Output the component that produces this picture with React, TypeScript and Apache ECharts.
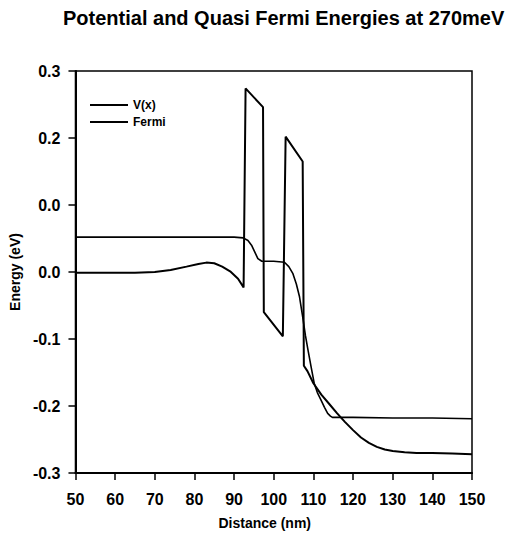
import React, { useEffect, useRef } from "react";
import * as echarts from "echarts";

const titleText = "Potential and Quasi Fermi Energies at 270meV";
const xAxisName = "Distance (nm)";
const yAxisName = "Energy (eV)";
const seriesNames = ["V(x)", "Fermi"];

// y tick labels as printed in the reference (tick values -0.3 .. 0.3)
const yTickValues = [-0.3, -0.2, -0.1, 0.0, 0.1, 0.2, 0.3];
const yTickLabels = ["-0.3", "-0.2", "-0.1", "0.0", "0.0", "0.2", "0.3"];

// Potential V(x)
const vX = [50, 55, 60, 65, 70, 74, 78, 81, 83, 85, 87, 89, 91, 92.4, 92.9, 97.3, 97.5, 102.3, 103.0, 107.3, 107.6, 108.5, 110, 112, 114, 116, 118, 120, 122, 124, 126, 128, 130, 133, 136, 140, 145, 150];
const vY = [-0.001, -0.001, -0.001, -0.001, 0.0, 0.003, 0.008, 0.012, 0.014, 0.013, 0.008, 0.001, -0.010, -0.023, 0.274, 0.246, -0.060, -0.096, 0.202, 0.165, -0.140, -0.148, -0.166, -0.183, -0.197, -0.211, -0.224, -0.236, -0.247, -0.255, -0.261, -0.265, -0.267, -0.269, -0.270, -0.270, -0.271, -0.272];

// Quasi Fermi energy
const fX = [50, 60, 70, 80, 90, 92.3, 93.5, 94.4, 95.2, 96, 97, 100, 102.7, 103.8, 104.8, 105.7, 106.5, 107.3, 108.0, 108.6, 109.4, 110.2, 111.0, 111.9, 112.8, 113.6, 114.3, 114.8, 120, 130, 140, 150];
const fY = [0.052, 0.052, 0.052, 0.052, 0.052, 0.051, 0.047, 0.040, 0.030, 0.020, 0.016, 0.016, 0.0145, 0.008, -0.002, -0.018, -0.037, -0.067, -0.095, -0.115, -0.141, -0.166, -0.180, -0.191, -0.202, -0.211, -0.215, -0.217, -0.217, -0.218, -0.218, -0.219];

const FONT = "'Liberation Sans', Arial, sans-serif";

export default function App() {
  const ref = useRef<HTMLDivElement>(null);
  useEffect(() => {
    if (!ref.current) return;
    const chart = echarts.init(ref.current, null, { renderer: "svg" });
    const vData = vX.map((x, i) => [x, vY[i]]);
    const fData = fX.map((x, i) => [x, fY[i]]);
    chart.setOption({
      animation: false,
      backgroundColor: "#ffffff",
      title: {
        text: titleText,
        left: 58,
        top: 3,
        textStyle: { fontFamily: FONT, fontWeight: "bold", fontSize: 20, color: "#000" },
      },
      grid: {
        left: 73,
        right: 34,
        top: 71,
        bottom: 66,
        show: true,
        borderColor: "#000",
        borderWidth: 1.5,
        backgroundColor: "transparent",
      },
      legend: {
        data: seriesNames,
        orient: "vertical",
        left: 85,
        top: 94,
        icon: "rect",
        itemWidth: 38,
        itemHeight: 2,
        itemGap: 5,
        textStyle: { fontFamily: FONT, fontWeight: "bold", fontSize: 12, color: "#000" },
      },
      xAxis: {
        type: "value",
        min: 50,
        max: 150,
        interval: 10,
        name: xAxisName,
        nameLocation: "middle",
        nameGap: 43,
        nameTextStyle: { fontFamily: FONT, fontWeight: "bold", fontSize: 14, color: "#000", padding: [0, 18, 0, 0] },
        axisLine: { show: true, onZero: false, lineStyle: { color: "#000", width: 2 } },
        axisTick: { show: true, inside: false, length: 7, lineStyle: { color: "#000", width: 1.5 } },
        axisLabel: { margin: 18, fontFamily: FONT, fontWeight: "bold", fontSize: 16, color: "#000" },
        splitLine: { show: false },
      },
      yAxis: {
        type: "value",
        min: -0.3,
        max: 0.3,
        interval: 0.1,
        name: yAxisName,
        nameLocation: "middle",
        nameGap: 50,
        nameTextStyle: { fontFamily: FONT, fontWeight: "bold", fontSize: 14, color: "#000" },
        axisLine: { show: true, onZero: false, lineStyle: { color: "#000", width: 2 } },
        axisTick: { show: true, inside: false, length: 7, lineStyle: { color: "#000", width: 1.5 } },
        axisLabel: {
          margin: 15,
          fontFamily: FONT,
          fontWeight: "bold",
          fontSize: 16,
          color: "#000",
          formatter: (v: number) => {
            const idx = yTickValues.findIndex((t) => Math.abs(t - v) < 1e-6);
            return idx >= 0 ? yTickLabels[idx] : "";
          },
        },
        splitLine: { show: false },
      },
      series: [
        {
          name: seriesNames[0],
          type: "line",
          data: vData,
          symbol: "none",
          lineStyle: { color: "#000", width: 2 },
          itemStyle: { color: "#000" },
        },
        {
          name: seriesNames[1],
          type: "line",
          data: fData,
          symbol: "none",
          lineStyle: { color: "#000", width: 1.6 },
          itemStyle: { color: "#000" },
        },
      ],
    });
    return () => chart.dispose();
  }, []);
  return (
    <div
      ref={ref}
      style={{ position: "fixed", left: 0, top: 0, width: 506, height: 539, background: "#fff" }}
    />
  );
}
